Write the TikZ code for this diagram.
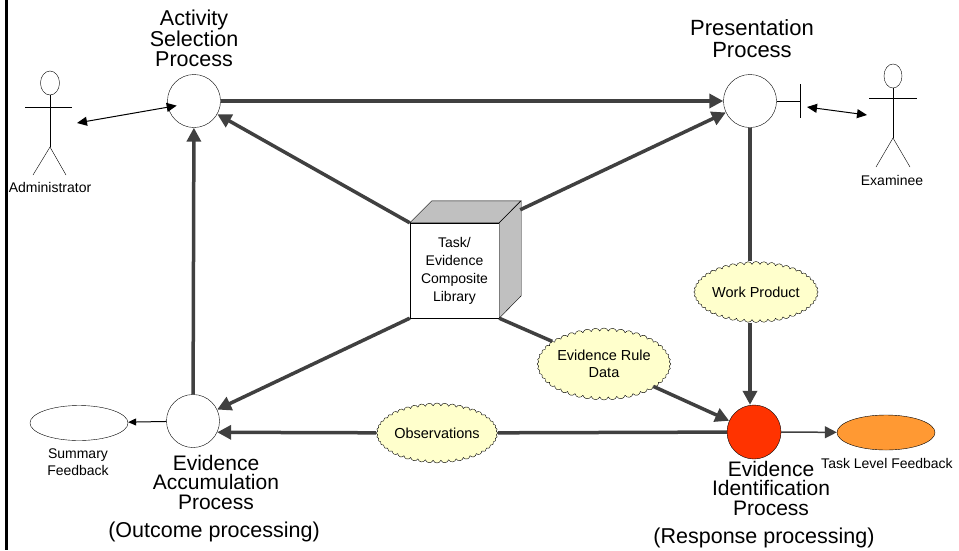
\documentclass[tikz,border=0pt]{standalone}
\usepackage{fontspec}
\setmainfont{Liberation Sans}
\usetikzlibrary{arrows.meta,shapes.symbols,shapes.geometric}
\definecolor{flowgray}{RGB}{64,64,64}
\definecolor{cloudyellow}{RGB}{255,255,204}
\definecolor{idred}{RGB}{255,51,0}
\definecolor{fborange}{RGB}{255,153,51}
\definecolor{sidegray}{RGB}{192,192,192}
\begin{document}
\begin{tikzpicture}[x=1pt,y=-1pt,
    process/.style={circle,draw,fill=white,minimum size=53pt,inner sep=0pt},
    proclabel/.style={align=center,inner sep=0pt,font=\fontsize{21.5}{20.5}\selectfont},
    smalllabel/.style={align=center,inner sep=0pt,font=\fontsize{14}{17}\selectfont},
    bigflow/.style={line width=3.5pt,draw=flowgray},
    flowarrow/.style={bigflow,-{Triangle[length=14pt,width=14pt]}},
    thinarrow/.style={line width=1pt,{Triangle[length=10pt,width=9pt]}-{Triangle[length=10pt,width=9pt]}},
    datacloud/.style={cloud,cloud puffs=48,cloud puff arc=140,cloud ignores aspect,draw,fill=cloudyellow,
      inner sep=0pt,align=center,font=\fontsize{14.5}{16.5}\selectfont},
    feedback/.style={ellipse,draw,minimum width=98pt,minimum height=35pt,inner sep=0pt}]
  \useasboundingbox (0,0) rectangle (959,550);

  % Frame line on the left
  \draw[line width=2.5pt] (6.5,0) -- (6.5,550);

  % Processes
  \node[process] (asp) at (194,101) {};
  \node[process] (pp) at (750,101) {};
  \node[process] (eap) at (193,421) {};
  \node[process,fill=idred,minimum size=54pt] (eip) at (754,432) {};

  \node[proclabel,anchor=north] (asplabel) at (194,10) {Activity\\Selection\\Process};
  \node[proclabel,anchor=north,font=\fontsize{22}{22}\selectfont] (pplabel) at (752,19) {Presentation\\Process};
  \node[proclabel,anchor=north,font=\fontsize{21}{19.5}\selectfont] (eaplabel) at (216,455) {Evidence\\Accumulation\\Process};
  \node[proclabel,anchor=north] (outcome) at (214,522) {(Outcome processing)};
  \node[proclabel,anchor=north,font=\fontsize{21}{19.5}\selectfont] (eiplabel) at (771,461) {Evidence\\Identification\\Process};
  \node[proclabel,anchor=north] (response) at (764,528) {(Response processing)};

  % Actors
  \node[ellipse,draw,minimum width=19pt,minimum height=24pt,inner sep=0pt] (adminhead) at (50,83) {};
  \coordinate (adminhip) at (50,147);
  \draw (adminhead.south) -- (adminhip);
  \draw (25,107) -- (72,107);
  \draw (33,175) -- (adminhip) -- (66,175);
  \node[smalllabel,anchor=north] (admin) at (50,182) {Administrator};

  \node[ellipse,draw,minimum width=18pt,minimum height=24pt,inner sep=0pt] (examhead) at (893,76) {};
  \coordinate (examhip) at (893,138);
  \draw (examhead.south) -- (examhip);
  \draw (869,98) -- (917,98);
  \draw (876,167) -- (examhip) -- (910,167);
  \node[smalllabel,anchor=north] (exam) at (892,175) {Examinee};

  % Interface of the presentation process
  \coordinate (ifc) at (800,101);
  \draw (pp.east) -- (ifc);
  \draw ([yshift=17pt]ifc) -- ([yshift=-17pt]ifc);

  \coordinate (adminend) at (77,123);
  \coordinate (examend) at (867,115);
  \coordinate (ifcend) at (807,107);
  \draw[thinarrow] (adminend) -- ([xshift=9pt]asp.190);
  \draw[thinarrow] (ifcend) -- (examend);

  % Library
  \node[draw,fill=white,minimum width=89pt,minimum height=95pt,inner sep=0pt,align=center,
    font=\fontsize{14}{18}\selectfont] (lib) at (454.5,270.5) {Task/\\Evidence\\Composite\\Library};
  \draw[fill=sidegray] (lib.north west) -- ++(22,-22) -- ++(89,0) -- (lib.north east) -- cycle;
  \draw[fill=sidegray] (lib.north east) -- ++(22,-22) -- ++(0,95) -- (lib.south east) -- cycle;
  \coordinate (libback) at ([xshift=21pt,yshift=13pt]lib.north east);

  % Data
  \node[datacloud,minimum width=97pt,minimum height=61pt] (wp) at (756,292) {Work Product};
  \node[datacloud,minimum width=104pt,minimum height=72pt] (erd) at (604,364) {Evidence Rule\\Data};
  \node[datacloud,minimum width=111pt,minimum height=60pt] (obs) at (437,433) {Observations};

  % Feedback
  \node[feedback] (sf) at (79,423) {};
  \node[smalllabel,anchor=north] (sflabel) at (78,449) {Summary\\Feedback};
  \node[feedback,fill=fborange] (tlf) at (886,432.5) {};
  \node[smalllabel,anchor=north] (tlflabel) at (887,458) {Task Level Feedback};

  % Flows
  \draw[flowarrow] (asp) -- (pp);
  \draw[flowarrow] (lib.north west) -- (asp);
  \draw[flowarrow] (libback) -- (pp);
  \draw[flowarrow] (lib.south west) -- (eap);
  \draw[flowarrow] (eap) -- (asp);
  \draw[bigflow] (lib.south east) -- (erd);
  \draw[flowarrow] (erd) -- (eip);
  \draw[bigflow] (pp.south) -- (pp.south |- wp.north);
  \draw[flowarrow] (pp.south |- wp.south) -- (pp.south |- eip.north);
  \draw[bigflow] (eip) -- (obs);
  \draw[flowarrow] (obs) -- (eap.-25);
  \draw[line width=1.5pt,draw=flowgray,-{Triangle[length=12pt,width=12pt]}] (eip) -- (tlf);
  \draw[line width=1pt,-{Triangle[length=8pt,width=7pt]}] (eap) -- (sf);
\end{tikzpicture}
\end{document}
